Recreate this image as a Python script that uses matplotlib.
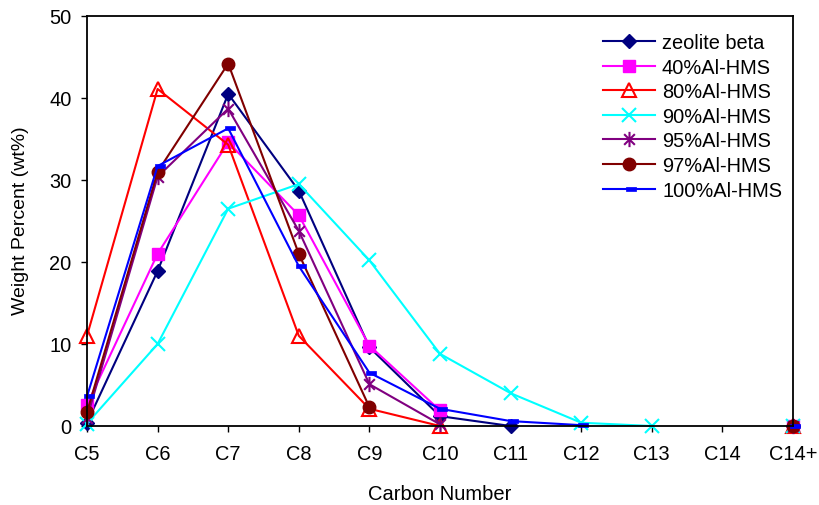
import numpy as np
import matplotlib
matplotlib.use("Agg")
import matplotlib.pyplot as plt
from matplotlib.path import Path

plt.rcParams['font.family'] = ['Liberation Sans', 'DejaVu Sans']

categories = ["C5", "C6", "C7", "C8", "C9", "C10", "C11", "C12", "C13", "C14", "C14+"]
nan = np.nan

zeolite_beta = [0.4, 18.9, 40.5, 28.7, 9.6, 1.2, 0.0, nan, nan, nan, 0.0]
al_hms_40 = [2.6, 21.0, 34.6, 25.7, 9.8, 1.9, nan, nan, nan, nan, 0.0]
al_hms_80 = [11.0, 41.1, 34.3, 11.0, 2.1, 0.0, nan, nan, nan, nan, 0.0]
al_hms_90 = [0.3, 10.0, 26.5, 29.5, 20.2, 8.8, 4.0, 0.4, 0.0, nan, 0.0]
al_hms_95 = [1.0, 30.4, 38.7, 23.8, 5.1, 0.2, nan, nan, nan, nan, 0.0]
al_hms_97 = [1.7, 31.0, 44.2, 21.0, 2.3, nan, nan, nan, nan, nan, 0.0]
al_hms_100 = [3.6, 31.7, 36.3, 19.5, 6.5, 2.1, 0.6, 0.1, nan, nan, 0.0]

series_names = ["zeolite beta", "40%Al-HMS", "80%Al-HMS", "90%Al-HMS",
                "95%Al-HMS", "97%Al-HMS", "100%Al-HMS"]
series_values = [zeolite_beta, al_hms_40, al_hms_80, al_hms_90,
                 al_hms_95, al_hms_97, al_hms_100]

# asterisk marker: an X crossed by a vertical bar
star_path = Path(
    [(-0.7, -0.7), (0.7, 0.7), (-0.7, 0.7), (0.7, -0.7), (0, -1), (0, 1)],
    [Path.MOVETO, Path.LINETO, Path.MOVETO, Path.LINETO, Path.MOVETO, Path.LINETO])
# short horizontal bar marker
dash_path = Path(
    [(-0.4, -0.35), (1.0, -0.35), (1.0, 0.35), (-0.4, 0.35), (-0.4, -0.35)],
    [Path.MOVETO, Path.LINETO, Path.LINETO, Path.LINETO, Path.CLOSEPOLY])

styles = [
    dict(color="#000080", marker="D", ms=7, mfc="#000080", mec="#000080"),
    dict(color="#FF00FF", marker="s", ms=8, mfc="#FF00FF", mec="#FF00FF"),
    dict(color="#FF0000", marker="^", ms=10, mfc="none", mec="#FF0000", mew=1.5),
    dict(color="#00FFFF", marker="x", ms=10, mec="#00FFFF", mew=1.5),
    dict(color="#800080", marker=star_path, ms=11, mfc="none", mec="#800080", mew=1.5),
    dict(color="#800000", marker="o", ms=9, mfc="#800000", mec="#800000"),
    dict(color="#0000FF", marker=dash_path, ms=10, mfc="#0000FF", mec="#0000FF", mew=0.5),
]

fig = plt.figure(figsize=(8.19, 5.06), dpi=100)
ax = fig.add_axes([87 / 819, 1 - 427 / 506, (793 - 87) / 819, (427 - 17) / 506])

x = np.arange(len(categories))
for name, vals, st in zip(series_names, series_values, styles):
    ax.plot(x, vals, label=name, lw=1.5, clip_on=False, **st)

ax.set_xlim(0, len(categories) - 1)
ax.set_ylim(0, 50)
ax.set_xticks(x)
ax.set_xticklabels(categories)
ax.set_yticks(np.arange(0, 51, 10))

for s in ax.spines.values():
    s.set_linewidth(1.3)
    s.set_color("black")
ax.tick_params(axis="both", direction="out", length=4, width=1, labelsize=14.4)
ax.tick_params(axis="x", pad=9)
ax.tick_params(axis="y", pad=7)

ax.set_xlabel("Carbon Number", fontsize=14.5)
ax.set_ylabel("Weight Percent (wt%)", fontsize=14)
ax.xaxis.set_label_coords(0.5 * (87 + 793) / 819, 1 - 495 / 506, transform=fig.transFigure)
ax.yaxis.set_label_coords(21 / 819, 1 - 221 / 506, transform=fig.transFigure)
ax.xaxis.label.set_va("center")
ax.yaxis.label.set_va("center")

leg = ax.legend(loc="upper left", bbox_to_anchor=(603 / 819, 1 - 34 / 506),
                bbox_transform=fig.transFigure, frameon=False, fontsize=14.4,
                borderpad=0, borderaxespad=0, labelspacing=0.28,
                handlelength=2.6, handletextpad=0.35)

fig.savefig("out.png", dpi=100)
